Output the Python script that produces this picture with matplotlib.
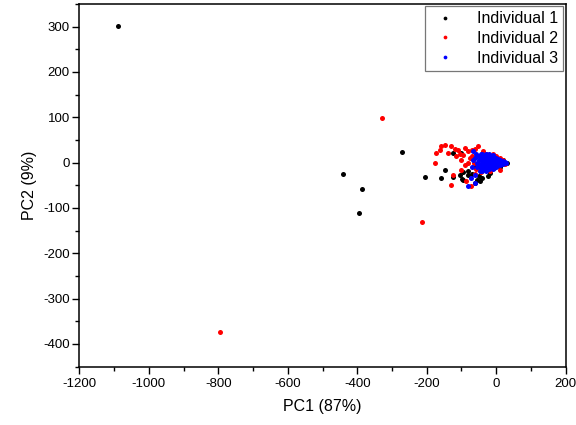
import matplotlib
matplotlib.use("Agg")
import matplotlib.pyplot as plt
from matplotlib.ticker import MultipleLocator

plt.rcParams['font.family'] = ['Liberation Sans', 'DejaVu Sans']
plt.rcParams['axes.unicode_minus'] = False

# PCA scores (PC1, PC2) for each individual
ind1_pc1 = [-1088, -440, -386, -395, -271, -204, -147, -124, -101, -159, -104, -95,
            -61, -81, -55, -46, -23, -124, -98, -95, -80, -17, 30, -40, -50, -30,
            -70, -10, 10, 20, -60]
ind1_pc2 = [302, -25, -59, -112, 23, -32, -16, 21, 21, -34, -28, -39,
            -45, -19, -39, -41, -30, -32, -37, -21, -28, -24, 0, -35, -30, -10,
            -25, -5, -10, 5, -10]

ind2_pc1 = [-328, -213, -795, -161, -158, -147, -173, -176, -130, -110, -115, -138,
            -89, -81, -95, -75, -124, -130, -86, -72, -101, -69, -52, -37, -46,
            -17, 12, -60, -40, -30, -20, -10, -5, 0, 5, 10, 15, -50, -65, -55,
            -45, -25, -35, -80, -90, -100, -105, -120, -60, -15, 20, 25, -70, -58]
ind2_pc2 = [98, -132, -373, 27, 36, 38, 21, -1, 36, 27, 14, 21,
            32, 25, 16, 10, -28, -50, -41, -52, -17, 27, 36, 25, -12,
            -19, -17, 30, 10, 20, 15, 20, 5, 15, -5, 10, 0, -5, 0, 15,
            -20, -10, 0, 0, -5, 5, 20, 30, -25, -5, 5, -3, 15, -15]

ind3_pc1 = [-66, -81, -61, -66, -61, -50, -50, -50, -45, -45, -45, -45, -40, -40,
            -40, -40, -40, -35, -35, -35, -35, -30, -30, -30, -30, -30, -25, -25,
            -25, -25, -20, -20, -20, -20, -20, -15, -15, -15, -15, -10, -10, -10,
            -10, -10, -5, -5, -5, -5, 0, 0, 0, 0, 5, 5, 5, 10, 10, 10, 15, 15,
            20, 20, 25, 28, -55, -55, -58, -48, -70, -72, -62]
ind3_pc2 = [5, -52, -28, 25, 10, 15, 5, -5, 18, 8, -2, -12, 20, 10,
            0, -10, -18, 15, 5, -5, -15, 20, 10, 0, -10, -18, 15, 5,
            -5, -14, 18, 10, 2, -6, -15, 14, 6, -2, -10, 16, 8, 0,
            -8, -15, 12, 4, -4, -12, 10, 3, -3, -10, 8, 1, -6, 6, 0, -6, 4, -3,
            3, -2, 1, -1, 0, -10, 18, -18, -10, -35, -45]

fig = plt.figure(figsize=(5.76, 4.25), dpi=100)
ax = fig.add_axes([0.138, 0.1376, 0.844, 0.853])

ms = 3.6
ax.plot(ind1_pc1, ind1_pc2, 'o', color='black', ms=ms, mec='none', label='Individual 1')
ax.plot(ind2_pc1, ind2_pc2, 'o', color='#ff0000', ms=ms, mec='none', label='Individual 2')
ax.plot(ind3_pc1, ind3_pc2, 'o', color='#0000ff', ms=ms, mec='none', label='Individual 3')

ax.set_xlim(-1200, 200)
ax.set_ylim(-450, 350)
ax.xaxis.set_major_locator(MultipleLocator(200))
ax.xaxis.set_minor_locator(MultipleLocator(100))
ax.yaxis.set_major_locator(MultipleLocator(100))
ax.yaxis.set_minor_locator(MultipleLocator(50))
ax.tick_params(which='major', direction='out', length=5, width=1, labelsize=9.5,
               colors='black')
ax.tick_params(which='minor', direction='out', length=3, width=1)
ax.tick_params(axis='y', pad=2)
for sp in ax.spines.values():
    sp.set_linewidth(1.1)
    sp.set_color('black')

ax.set_xlabel('PC1 (87%)', fontsize=11.5, labelpad=6)
ax.set_ylabel('PC2 (9%)', fontsize=11.5, labelpad=4)

leg = ax.legend(loc='upper right', fontsize=11.5, markerscale=0.75, frameon=True,
                fancybox=False, borderaxespad=0.15, handletextpad=1.0,
                labelspacing=0.3, borderpad=0.3, handlelength=2.0)
leg.get_frame().set_edgecolor('#555555')
leg.get_frame().set_linewidth(0.9)

fig.savefig('out.png', dpi=100, facecolor='white')
